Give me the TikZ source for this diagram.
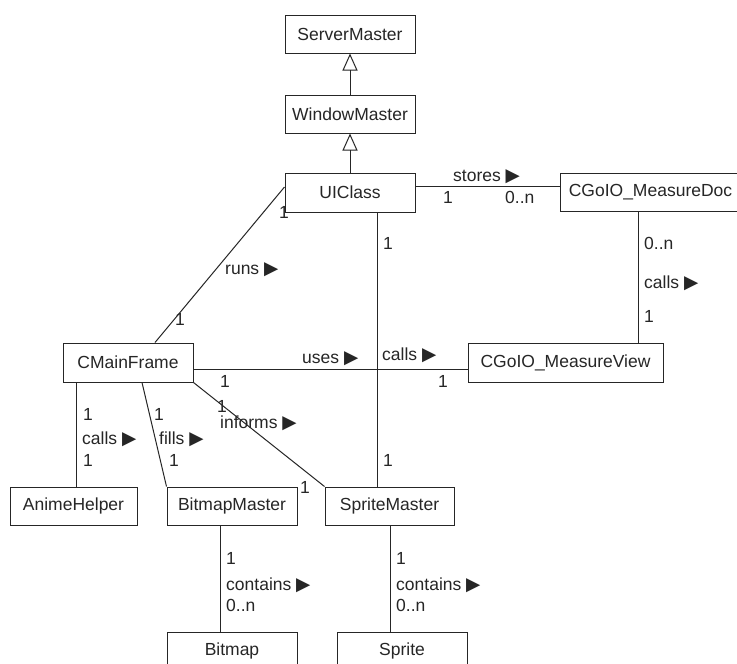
\documentclass[tikz,border=0pt]{standalone}
\usepackage{fontspec}
\setmainfont{Liberation Sans}
\newfontfamily\symfont{DejaVu Sans}
\usetikzlibrary{arrows.meta}
\newcommand{\rt}{{\symfont\fontsize{18.5}{18}\selectfont ▶}}
\tikzset{
  cls/.style={draw=black!85, line width=1pt, inner sep=0pt, font=\fontsize{17.5}{20}\selectfont, text=black!85},
  conn/.style={draw=black!85, line width=1pt},
  inh/.style={conn, -{Triangle[open, length=17pt, width=15pt, line width=1pt]}},
  lbl/.style={anchor=base west, inner sep=0pt, font=\fontsize{17.5}{20}\selectfont, text=black!85}
}
\begin{document}
\begin{tikzpicture}[x=1pt, y=-1pt]
\useasboundingbox (0,0) rectangle (737,664);
\clip (0,0) rectangle (737,664);
\fill[white] (0,0) rectangle (737,664);
% classes
\node[cls, minimum width=130pt, minimum height=38pt] (SM) at (350,34) {ServerMaster};
\node[cls, minimum width=130pt, minimum height=38pt] (WM) at (350,114) {WindowMaster};
\node[cls, minimum width=130pt, minimum height=39pt] (UI) at (350,192.5) {UIClass};
\node[cls, minimum width=181pt, minimum height=38pt] (MD) at (650.5,192) {CGoIO\_MeasureDoc};
\node[cls, minimum width=195pt, minimum height=39pt] (MV) at (565.5,362.5) {CGoIO\_MeasureView};
\node[cls, minimum width=130pt, minimum height=39pt] (CF) at (128,362.5) {CMainFrame};
\node[cls, minimum width=127pt, minimum height=38pt] (AH) at (73.5,506) {AnimeHelper};
\node[cls, minimum width=130pt, minimum height=38pt] (BM) at (232,506) {BitmapMaster};
\node[cls, minimum width=129pt, minimum height=38pt] (SpM) at (389.5,506) {SpriteMaster};
\node[cls, minimum width=130pt, minimum height=38pt] (BI) at (232,651) {Bitmap};
\node[cls, minimum width=130pt, minimum height=38pt] (SP) at (402,651) {Sprite};
% inheritance
\draw[inh] (WM.north) -- (SM.south);
\draw[inh] (UI.north) -- (WM.south);
% associations
\draw[conn] (UI.east |- 0,186) -- (MD.west |- 0,186);
\draw[conn] (MD.south -| 638,0) -- (MV.north -| 638,0);
\draw[conn] (UI.south -| 377,0) -- (SpM.north -| 377,0);
\draw[conn] (CF.east |- 0,369) -- (MV.west |- 0,369);
\draw[conn] (CF.north -| 155,0) -- (UI.west |- 0,187);
\draw[conn] (CF.south -| 76,0) -- (AH.north -| 76,0);
\draw[conn] (CF.south -| 142,0) -- (BM.north west);
\draw[conn] (CF.south east) -- (SpM.north west);
\draw[conn] (BM.south -| 220,0) -- (BI.north -| 220,0);
\draw[conn] (SpM.south -| 390,0) -- (SP.north -| 390,0);
% labels
\node[lbl] (l1) at (453,181) {stores \rt};
\node[lbl] (l2) at (443,203) {1};
\node[lbl] (l3) at (505,203) {0..n};
\node[lbl] (l4) at (383,249) {1};
\node[lbl] (l5) at (644,249) {0..n};
\node[lbl] (l6) at (644,288) {calls \rt};
\node[lbl] (l7) at (644,322) {1};
\node[lbl] (l8) at (382,360) {calls \rt};
\node[lbl] (l9) at (302,363) {uses \rt};
\node[lbl] (l10) at (438,387) {1};
\node[lbl] (l11) at (220,387) {1};
\node[lbl] (l12) at (225,274) {runs \rt};
\node[lbl] (l13) at (279,218) {1};
\node[lbl] (l14) at (175,325) {1};
\node[lbl] (l15) at (83,420) {1};
\node[lbl] (l16) at (82,444) {calls \rt};
\node[lbl] (l17) at (83,466) {1};
\node[lbl] (l18) at (154,420) {1};
\node[lbl] (l19) at (159,444) {fills \rt};
\node[lbl] (l20) at (169,466) {1};
\node[lbl] (l21) at (217,412) {1};
\node[lbl] (l22) at (220,428) {informs \rt};
\node[lbl] (l23) at (300,493) {1};
\node[lbl] (l24) at (383,466) {1};
\node[lbl] (l25) at (226,564) {1};
\node[lbl] (l26) at (226,590) {contains \rt};
\node[lbl] (l27) at (226,611) {0..n};
\node[lbl] (l28) at (396,564) {1};
\node[lbl] (l29) at (396,590) {contains \rt};
\node[lbl] (l30) at (396,611) {0..n};
\end{tikzpicture}
\end{document}
